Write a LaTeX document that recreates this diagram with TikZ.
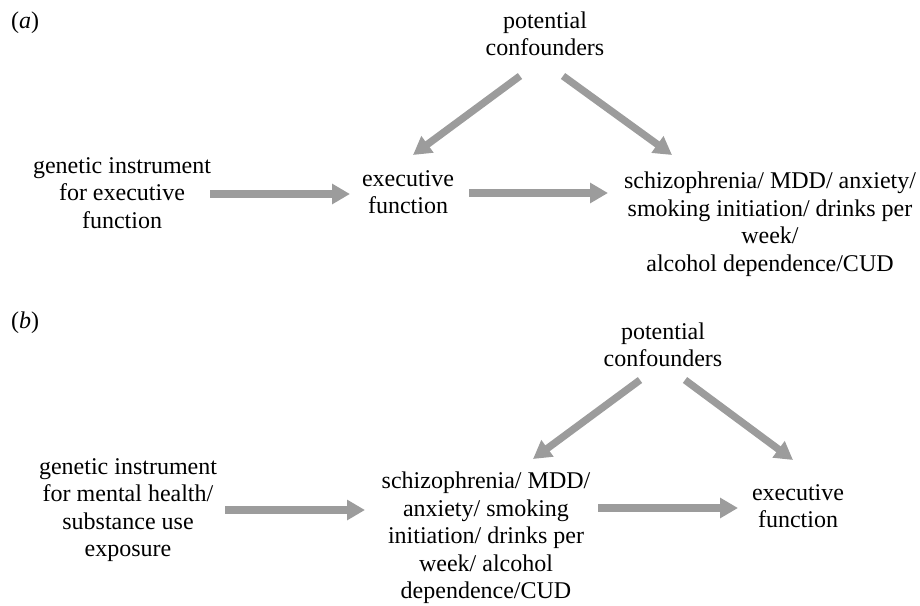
\documentclass[tikz,border=0pt]{standalone}
\usepackage{fontspec}
\setmainfont{Liberation Serif}
\usetikzlibrary{arrows.meta,calc}
\definecolor{arrgray}{HTML}{9C9C9C}
\tikzset{
  lbl/.style={inner sep=0pt, align=center, font=\fontsize{24pt}{27.5pt}\selectfont},
  arr/.style={draw=arrgray, line width=7.3pt, -{Triangle[length=18pt,width=19.5pt]}, arrgray}
}
\begin{document}
\begin{tikzpicture}[x=1pt,y=-1pt]
\useasboundingbox (0,0) rectangle (920,605);
% panel (a)
\node[lbl] (la) at (25,23) {(\textit{a})};
\node[lbl] (pc) at (545,34) {potential\\confounders};
\node[lbl] (gi) at (122,193) {genetic instrument\\for executive\\function};
\node[lbl] (ef) at (408,192) {executive\\function};
\node[lbl] (out) at (770,224) {schizophrenia/ MDD/ anxiety/\\smoking initiation/ drinks per\\week/\\alcohol dependence/CUD};
\draw[arr] ($(gi)+(88,1)$) -- ($(gi -| ef)+(-58,1)$);
\draw[arr] ($(ef)+(61,1)$) -- ($(ef -| out)+(-162,1)$);
\draw[arr] ($(pc)+(-25,42)$) -- ($(ef)+(5,-37)$);
\draw[arr] ($(pc)+(18,42)$) -- ($(out)+(-98,-69)$);
% panel (b)
\node[lbl] (lb) at (25,323) {(\textit{b})};
\node[lbl] (pc2) at (663,345) {potential\\confounders};
\node[lbl] (gi2) at (128,510) {genetic instrument\\for mental health/\\substance use\\exposure};
\node[lbl] (mid) at (486,538) {schizophrenia/ MDD/\\anxiety/ smoking\\initiation/ drinks per\\week/ alcohol\\dependence/CUD};
\node[lbl] (ef2) at (798,506) {executive\\function};
\draw[arr] ($(gi2)+(97,0)$) -- ($(gi2 -| mid)+(-121,0)$);
\draw[arr] ($(ef2 -| mid)+(112,2)$) -- ($(ef2)+(-60,2)$);
\draw[arr] ($(pc2)+(-23,35)$) -- ($(mid)+(47,-79)$);
\draw[arr] ($(pc2)+(22,35)$) -- ($(ef2)+(-5,-46)$);
\end{tikzpicture}
\end{document}
